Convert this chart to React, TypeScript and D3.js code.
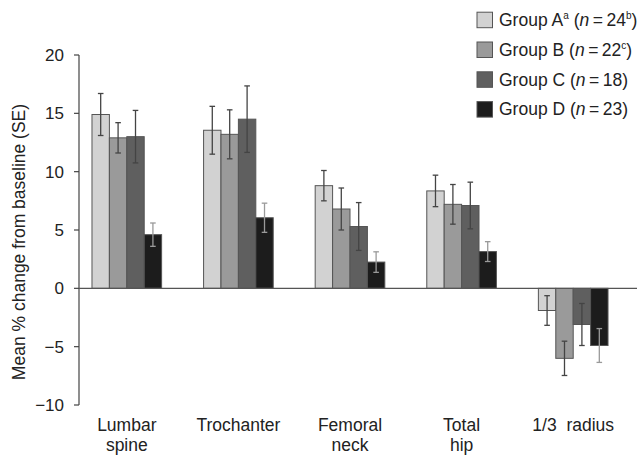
import React from "react";
import * as d3 from "d3";

const categories = ["Lumbar spine", "Trochanter", "Femoral neck", "Total hip", "1/3 radius"];
const categoryLines = [["Lumbar", "spine"], ["Trochanter"], ["Femoral", "neck"], ["Total", "hip"], ["1/3  radius"]];
const groups = ["A", "B", "C", "D"];

// mean % change per site, one array per group
const groupA = [14.9, 13.55, 8.8, 8.35, -1.9];
const groupB = [12.9, 13.2, 6.8, 7.2, -6.0];
const groupC = [13.0, 14.5, 5.3, 7.1, -3.1];
const groupD = [4.6, 6.05, 2.25, 3.15, -4.9];
// standard errors
const seA = [1.8, 2.05, 1.3, 1.35, 1.27];
const seB = [1.3, 2.1, 1.8, 1.7, 1.47];
const seC = [2.25, 2.85, 2.05, 2.0, 1.8];
const seD = [1.0, 1.25, 0.88, 0.85, 1.45];

const yTicks = [-10, -5, 0, 5, 10, 15, 20];

const values = [groupA, groupB, groupC, groupD];
const errors = [seA, seB, seC, seD];
const fills = ["#d2d2d2", "#9a9a9a", "#5f5f5f", "#1c1c1c"];
const errColors = ["#444", "#444", "#444", "#9a9a9a"];

const fmt = (v: number) => (v < 0 ? "\u2212" + Math.abs(v) : String(v));

const App = () => {
  const x = d3
    .scaleBand<string>()
    .domain(categories)
    .range([71, 629])
    .paddingInner(0.376)
    .paddingOuter(0.188);
  const xi = d3.scaleBand<string>().domain(groups).range([0, x.bandwidth()]);
  const y = d3.scaleLinear().domain([-10, 20]).range([405, 55]);
  const axisX = 79;
  const font = "'Liberation Sans', Arial, Helvetica, sans-serif";

  const legend = [
    { sup1: "a", n: "24", sup2: "b" },
    { sup1: "", n: "22", sup2: "c" },
    { sup1: "", n: "18", sup2: "" },
    { sup1: "", n: "23", sup2: "" }
  ];

  return (
    <svg
      width={644}
      height={456}
      style={{ position: "absolute", left: 0, top: 0, background: "#fff" }}
      fontFamily={font}
    >
      {/* y axis */}
      <line x1={axisX} x2={axisX} y1={y(20)} y2={y(-10)} stroke="#444" strokeWidth={1.2} />
      {yTicks.map(t => (
        <g key={t}>
          <line x1={axisX - 5} x2={axisX} y1={y(t)} y2={y(t)} stroke="#444" strokeWidth={1.2} />
          <text x={64} y={y(t)} dy="0.36em" textAnchor="end" fontSize={17} fill="#222">
            {fmt(t)}
          </text>
        </g>
      ))}
      <text
        transform={`translate(25,${(y(20) + y(-10)) / 2 + 12}) rotate(-90)`}
        textAnchor="middle"
        fontSize={17.5}
        fill="#222"
      >
        Mean % change from baseline (SE)
      </text>

      {/* bars */}
      {categories.map((c, ci) => (
        <g key={c} transform={`translate(${x(c)},0)`}>
          {groups.map((g, gi) => {
            const v = values[gi][ci];
            return (
              <rect
                key={g}
                x={xi(g)}
                y={y(Math.max(0, v))}
                width={xi.bandwidth()}
                height={Math.abs(y(v) - y(0))}
                fill={fills[gi]}
                stroke="#555"
                strokeWidth={1}
              />
            );
          })}
          {groups.map((g, gi) => {
            const v = values[gi][ci];
            const e = errors[gi][ci];
            const cx = (xi(g) as number) + xi.bandwidth() / 2;
            return (
              <g key={g} stroke={errColors[gi]} strokeWidth={1.3}>
                <line x1={cx} x2={cx} y1={y(v + e)} y2={y(v - e)} />
                <line x1={cx - 2.8} x2={cx + 2.8} y1={y(v + e)} y2={y(v + e)} />
                <line x1={cx - 2.8} x2={cx + 2.8} y1={y(v - e)} y2={y(v - e)} />
              </g>
            );
          })}
        </g>
      ))}

      {/* zero line */}
      <line x1={axisX} x2={637} y1={y(0)} y2={y(0)} stroke="#555" strokeWidth={1.3} />

      {/* category labels */}
      {categories.map((c, ci) => (
        <text
          key={c}
          x={(x(c) as number) + x.bandwidth() / 2}
          y={431}
          textAnchor="middle"
          fontSize={17.5}
          fill="#222"
        >
          {categoryLines[ci].map((l, li) => (
            <tspan key={li} x={(x(c) as number) + x.bandwidth() / 2} dy={li === 0 ? 0 : 20} style={{ whiteSpace: "pre" }}>
              {l}
            </tspan>
          ))}
        </text>
      ))}

      {/* legend */}
      {groups.map((g, gi) => {
        const cy = 19.7 + gi * 29.8;
        const L = legend[gi];
        return (
          <g key={g}>
            <rect x={477} y={cy - 7.5} width={15.5} height={15.5} fill={fills[gi]} stroke="#555" strokeWidth={1} />
            <text x={499} y={cy} dy="0.36em" fontSize={17.5} fill="#222">
              <tspan>{`Group ${g}`}</tspan>
              {L.sup1 && (
                <tspan fontSize={10} dy={-7}>
                  {L.sup1}
                </tspan>
              )}
              <tspan dy={L.sup1 ? 7 : 0}> (</tspan>
              <tspan fontStyle="italic">n</tspan>
              <tspan>{`\u2009=\u2009${L.n}`}</tspan>
              {L.sup2 && (
                <tspan fontSize={10} dy={-7}>
                  {L.sup2}
                </tspan>
              )}
              <tspan dy={L.sup2 ? 7 : 0}>)</tspan>
            </text>
          </g>
        );
      })}
    </svg>
  );
};

export default App;
